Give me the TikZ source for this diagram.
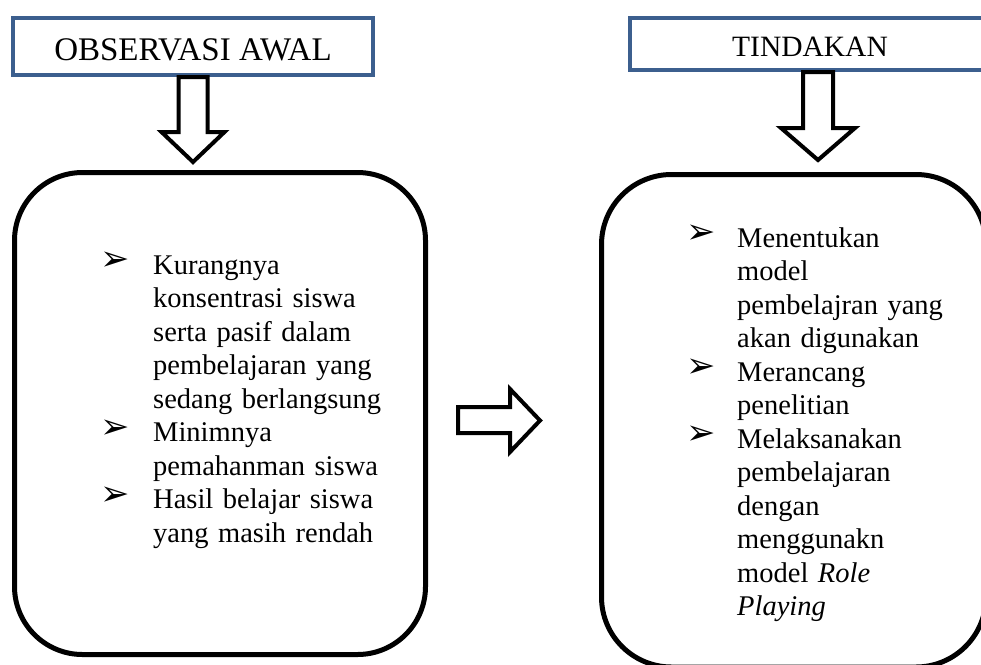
\documentclass[tikz,border=0pt]{standalone}
\usepackage{fontspec}
\setmainfont{Liberation Serif}
\newfontfamily\dejavu{DejaVu Sans}
\definecolor{hdrblue}{HTML}{3C5F8E}
\begin{document}
\begin{tikzpicture}[x=1pt,y=-1pt,
  hdr/.style={draw=hdrblue, line width=4pt, fill=white, minimum width=360pt, inner sep=0pt, text depth=0pt},
  panel/.style={draw=black, line width=5pt, rounded corners=68pt, inner sep=0pt},
  blockarrow/.style={draw=black, line width=4pt, fill=white, miter limit=10},
  item/.style={anchor=base west, inner sep=0pt, text width=250pt, align=left, font=\fontsize{28.5}{33.5}\selectfont},
  bul/.style={inner sep=0pt, font=\dejavu\fontsize{35}{35}\selectfont}]
\useasboundingbox (0,0) rectangle (981,664);
\clip (0,0) rectangle (981,664);

% panels
\node[panel, minimum width=411pt, minimum height=482pt] (obsbox) at (220,413.5) {};
\node[panel, minimum width=384.5pt, minimum height=492.5pt, rounded corners=70pt] (actbox) at (793.75,420.75) {};

% headers
\node[hdr, minimum height=57pt, text height=28pt, font=\fontsize{33}{38}\selectfont] (obs) at (193,46.5) {OBSERVASI AWAL};
\node[hdr, minimum height=52pt, text height=25.5pt, font=\fontsize{29.5}{34}\selectfont] (act) at (810,44) {TINDAKAN};

% block arrows
\draw[blockarrow] ([xshift=-14.5pt]obs.south) -- ++(29,0) -- ++(0,55) -- ++(17,0) -- ++(-31.5,30) -- ++(-31.5,-30) -- ++(17,0) -- cycle;
\draw[blockarrow] ([xshift=-7pt]act.south) -- ++(30,0) -- ++(0,56) -- ++(22,0) -- ++(-37,32) -- ++(-37,-32) -- ++(22,0) -- cycle;
\draw[blockarrow] (458,407) -- (510,407) -- (510,389) -- (540,420.5) -- (510,452) -- (510,433) -- (458,433) -- cycle;

% left items
\node[bul] (b1) at (115.5,261.5) {➢};
\node[item] (t1) at (153,274) {Kurangnya\\konsentrasi siswa\\serta pasif dalam\\pembelajaran yang\\sedang berlangsung};
\node[bul] (b2) at (115.5,429) {➢};
\node[item] (t2) at (153,441.5) {Minimnya\\pemahanman siswa};
\node[bul] (b3) at (115.5,496) {➢};
\node[item] (t3) at (153,508.5) {Hasil belajar siswa\\yang masih rendah};

% right items
\node[bul] (b4) at (701,234.5) {➢};
\node[item] (t4) at (737,247) {Menentukan\\model\\pembelajran yang\\akan digunakan};
\node[bul] (b5) at (701,368.5) {➢};
\node[item] (t5) at (737,381) {Merancang\\penelitian};
\node[bul] (b6) at (701,435.5) {➢};
\node[item] (t6) at (737,448) {Melaksanakan\\pembelajaran\\dengan\\menggunakn\\model \textit{Role}\\\textit{Playing}};
\end{tikzpicture}
\end{document}
